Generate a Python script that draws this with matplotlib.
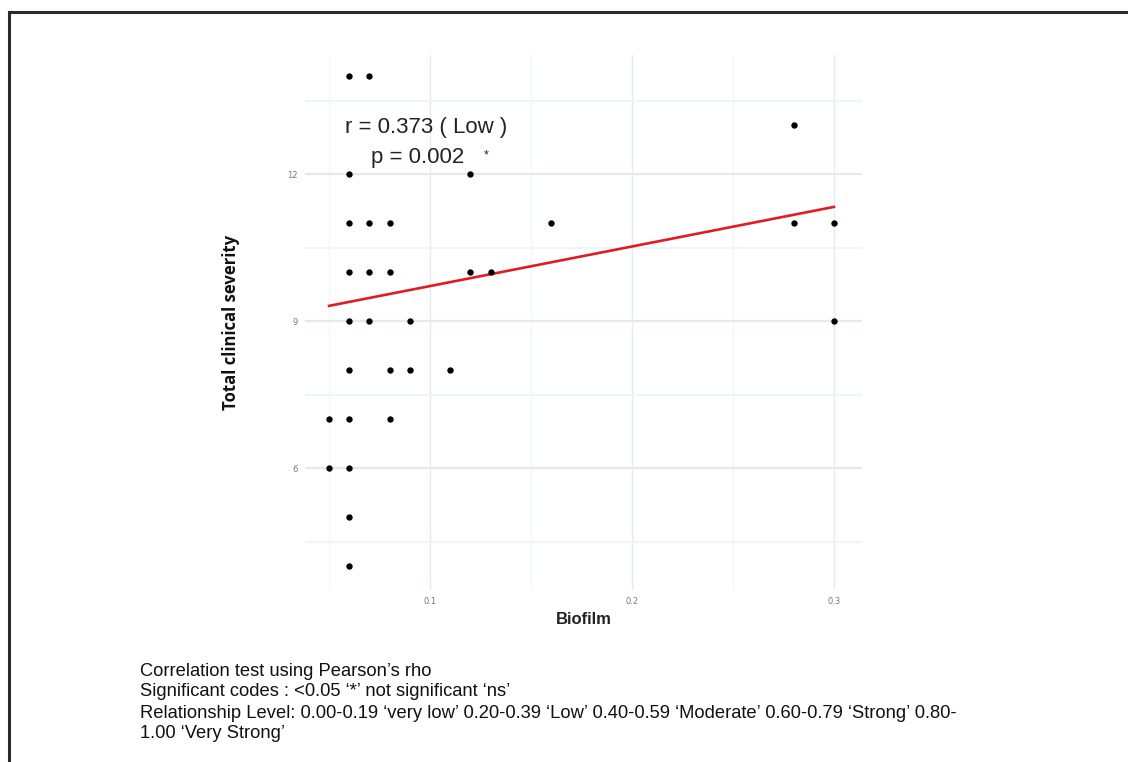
import numpy as np
import matplotlib
import matplotlib.pyplot as plt
from matplotlib.lines import Line2D

matplotlib.use('Agg')

# scatter points (biofilm, total clinical severity)
biofilm = [0.06, 0.07,
           0.28,
           0.06, 0.12,
           0.06, 0.07, 0.08, 0.16, 0.28, 0.30,
           0.06, 0.07, 0.08, 0.12, 0.13,
           0.06, 0.07, 0.09, 0.30,
           0.06, 0.08, 0.09, 0.11,
           0.05, 0.06, 0.08,
           0.05, 0.06,
           0.06,
           0.06]
severity = [14, 14,
            13,
            12, 12,
            11, 11, 11, 11, 11, 11,
            10, 10, 10, 10, 10,
            9, 9, 9, 9,
            8, 8, 8, 8,
            7, 7, 7,
            6, 6,
            5,
            4]

# fitted line ends as drawn
fit_x = [0.05, 0.30]
fit_y = [9.31, 11.33]

x_ticks = [0.1, 0.2, 0.3]
x_minor = [0.05, 0.15, 0.25]
y_ticks = [6, 9, 12]
y_minor = [4.5, 7.5, 10.5, 13.5]

r_text = "r = 0.373 ( Low )"
p_text = "p = 0.002"
notes = ["Correlation test using Pearson\u2019s rho",
         "Significant codes : <0.05 \u2018*\u2019 not significant \u2018ns\u2019",
         "Relationship Level: 0.00-0.19 \u2018very low\u2019 0.20-0.39 \u2018Low\u2019 "
         "0.40-0.59 \u2018Moderate\u2019 0.60-0.79 \u2018Strong\u2019 0.80-",
         "1.00 \u2018Very Strong\u2019"]

fig = plt.figure(figsize=(11.28, 7.62), dpi=100)
ax = fig.add_axes([0.2704, 0.2257, 0.4938, 0.7021])
ax.set_xlim(0.0381, 0.3139)
ax.set_ylim(3.51, 14.43)

# faint grid like a washed out ggplot minimal theme
for v in x_ticks:
    ax.axvline(v, color='#e4ecee', lw=1.0, zorder=0)
for v in x_minor:
    ax.axvline(v, color='#f1f6f7', lw=1.0, zorder=0)
for v in y_ticks:
    ax.axhline(v, color='#e2eaec', lw=1.6, zorder=0)
for v in y_minor:
    ax.axhline(v, color='#eef5f6', lw=1.4, zorder=0)

ax.plot(fit_x, fit_y, color='#e01b22', lw=1.9, zorder=2)
ax.scatter(biofilm, severity, s=21, color='black', zorder=3, linewidths=0)

ax.set_xticks(x_ticks)
ax.set_xticklabels(['0.1', '0.2', '0.3'])
ax.set_yticks(y_ticks)
ax.tick_params(length=0, labelsize=6, labelcolor='#777777', pad=5)
for s in ax.spines.values():
    s.set_visible(False)

ax.set_xlabel('Biofilm', fontsize=12, fontfamily='Liberation Sans',
              fontweight='bold', color='#222222', labelpad=4)
ax.set_ylabel('Total clinical severity', fontsize=12, fontfamily='Open Sans',
              fontweight='bold', color='#111111', labelpad=34)

# annotation placed in pixel coords measured from the top
for x0, y0, txt, fs in [(426, 127, r_text, 16), (418, 158, p_text, 16),
                        (486, 155, '*', 9)]:
    fig.text(x0 / 1128, 1 - y0 / 762, txt, fontsize=fs,
             fontfamily='Liberation Sans', ha='center', va='center', color='#222222')

for i, line in enumerate(notes):
    fig.text(140 / 1128, 1 - (671 + 21 * i) / 762, line, fontsize=13.2,
             fontfamily='Liberation Sans', ha='left', va='center', color='#111111')

# scanned frame: top and left edge only
fig.add_artist(Line2D([8.5 / 1128, 1], [1 - 11.5 / 762] * 2, color='#2a2a2a', lw=2.2))
fig.add_artist(Line2D([8.5 / 1128] * 2, [0, 1 - 11.5 / 762], color='#2a2a2a', lw=2.2))

plt.savefig('out.png', dpi=100)
